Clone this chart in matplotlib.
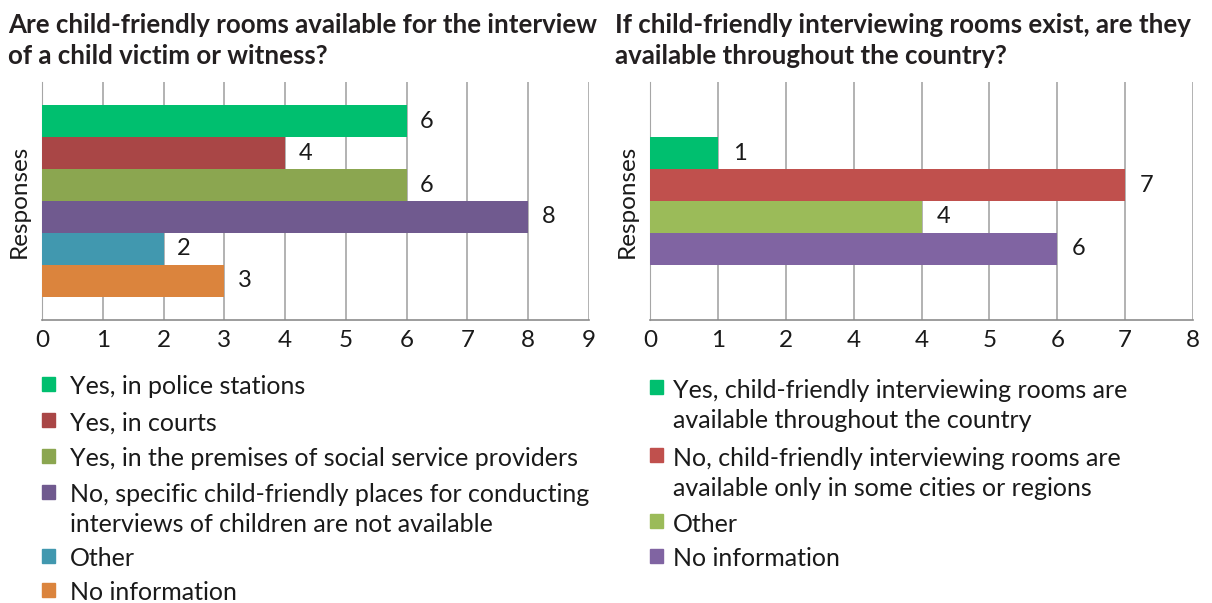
import matplotlib
matplotlib.use("Agg")
import matplotlib.pyplot as plt
from matplotlib.patches import Rectangle

plt.rcParams['font.family'] = ['Lato', 'DejaVu Sans']

# left chart
left_title = ["Are child-friendly rooms available for the interview",
              "of a child victim or witness?"]
left_labels = ["Yes, in police stations",
               "Yes, in courts",
               "Yes, in the premises of social service providers",
               "No, specific child-friendly places for conducting\ninterviews of children are not available",
               "Other",
               "No information"]
left_values = [6, 4, 6, 8, 2, 3]
left_colors = ["#00BF6F", "#A94646", "#8BA650", "#705A8F", "#4198AF", "#DB843D"]
left_ticks = [str(i) for i in range(10)]

# right chart
right_title = ["If child-friendly interviewing rooms exist, are they",
               "available throughout the country?"]
right_labels = ["Yes, child-friendly interviewing rooms are\navailable throughout the country",
                "No, child-friendly interviewing rooms are\navailable only in some cities or regions",
                "Other",
                "No information"]
right_values = [1, 7, 4, 6]
right_colors = ["#00BF6F", "#C0504D", "#9BBB59", "#8064A2"]
# the source chart really labels the 3 gridline as "4"
right_ticks = ["0", "1", "2", "4", "4", "5", "6", "7", "8"]

W, H = 1212, 603
fig = plt.figure(figsize=(W / 100, H / 100), dpi=100)


def px(x, y):
    return x / W, 1 - y / H


def draw_panel(rect, values, colors, ticks, pad):
    ax = fig.add_axes(rect)
    n = len(values)
    ypos = list(range(n))
    ax.barh(ypos, values, height=1.0, color=colors, zorder=3)
    for y, v in zip(ypos, values):
        ax.text(v + 0.22, y, str(v), va='center', ha='left', fontsize=17, color='#1a1a1a', zorder=4)
    xmax = len(ticks) - 1
    ax.set_xlim(0, xmax)
    ax.set_ylim(n - 0.5 + pad, -0.5 - pad)
    ax.set_xticks(range(xmax + 1))
    ax.set_xticklabels(ticks, fontsize=17.5, color='#1a1a1a')
    ax.set_yticks([])
    ax.xaxis.grid(True, color='#A6A6A6', linewidth=1.2, zorder=0)
    ax.tick_params(axis='x', length=0, pad=7)
    for s in ['top', 'right']:
        ax.spines[s].set_visible(False)
    ax.spines['left'].set_color('#A6A6A6')
    ax.spines['bottom'].set_color('#8C8C8C')
    ax.spines['bottom'].set_linewidth(1.2)
    ax.set_ylabel("Responses", fontsize=17.5, color='#1a1a1a', labelpad=9)
    return ax


def draw_title(lines, x):
    for i, line in enumerate(lines):
        fx, fy = px(x, 25 + 31 * i)
        fig.text(fx, fy, line, fontsize=18.6, fontweight='bold', color='#231F20',
                 ha='left', va='center')


def draw_legend(labels, colors, x, text_dx, y0, gaps, line_gap):
    y = y0
    for lab, c, g in zip(labels, colors, gaps):
        lines = lab.split("\n")
        mx, my = px(x, y + 7)
        fig.patches.append(Rectangle((mx, my), 13 / W, 14 / H, color=c,
                                     transform=fig.transFigure, figure=fig))
        for j, line in enumerate(lines):
            tx, ty = px(x + text_dx, y + j * line_gap + 3)
            fig.text(tx, ty, line, fontsize=18, color='#1a1a1a', ha='left', va='center')
        y += g + (len(lines) - 1) * line_gap


axL = draw_panel([42 / W, 1 - 320 / H, 547 / W, 238 / H], left_values, left_colors, left_ticks, 0.72)
axR = draw_panel([650 / W, 1 - 320 / H, 543 / W, 238 / H], right_values, right_colors, right_ticks, 1.72)

draw_title(left_title, 8)
draw_title(right_title, 615)
draw_legend(left_labels, left_colors, 42, 28, 384, [36, 36, 36, 34, 34, 34], 30)
draw_legend(right_labels, right_colors, 650, 23, 387, [37, 35, 35, 35], 31)

fig.savefig("out.png", dpi=100)
